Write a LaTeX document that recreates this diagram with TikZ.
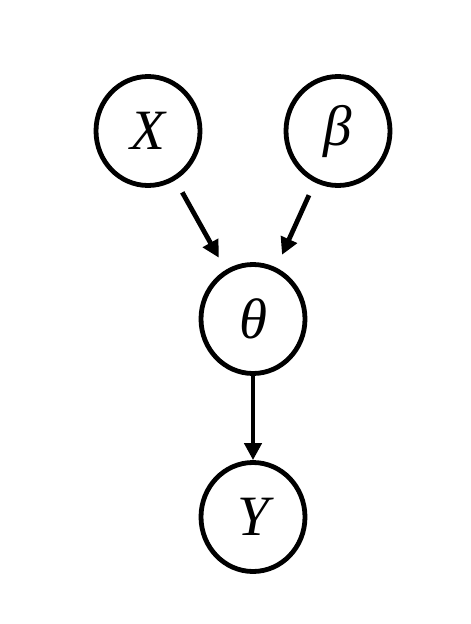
\documentclass[tikz,border=0pt]{standalone}
\usepackage{fontspec}
\setmainfont{Liberation Serif}
\usetikzlibrary{positioning, arrows.meta, shapes.geometric}

\begin{document}
\begin{tikzpicture}[
	x=1pt, y=-1pt,
	% --- Styles ---
	varnode/.style={
		ellipse, draw, line width=4.8pt, minimum width=104pt, minimum height=109pt, inner sep=0pt,
		font=\fontsize{57}{59}\selectfont\itshape
	},
	line/.style={
		draw, line width=4.8pt, -{Triangle[length=17pt,width=17pt]}
	}
	]
	
	\useasboundingbox (0,0) rectangle (471,624);
	
	% --- Nodes ---
	\node [varnode] (X) at (148,131) {X};
	\node [varnode] (beta) at (338,131) {β};
	\node [varnode] (theta) at (253,319) {θ};
	\node [varnode] (Y) at (253,517) {Y};
	
	% --- Connections ---
	\draw [line, shorten <=14pt, shorten >=14pt] (X) -- (theta);
	\draw [line, shorten <=14pt, shorten >=14pt] (beta) -- (theta);
	\draw [line] (theta) -- (Y);
	
\end{tikzpicture}
\end{document}
